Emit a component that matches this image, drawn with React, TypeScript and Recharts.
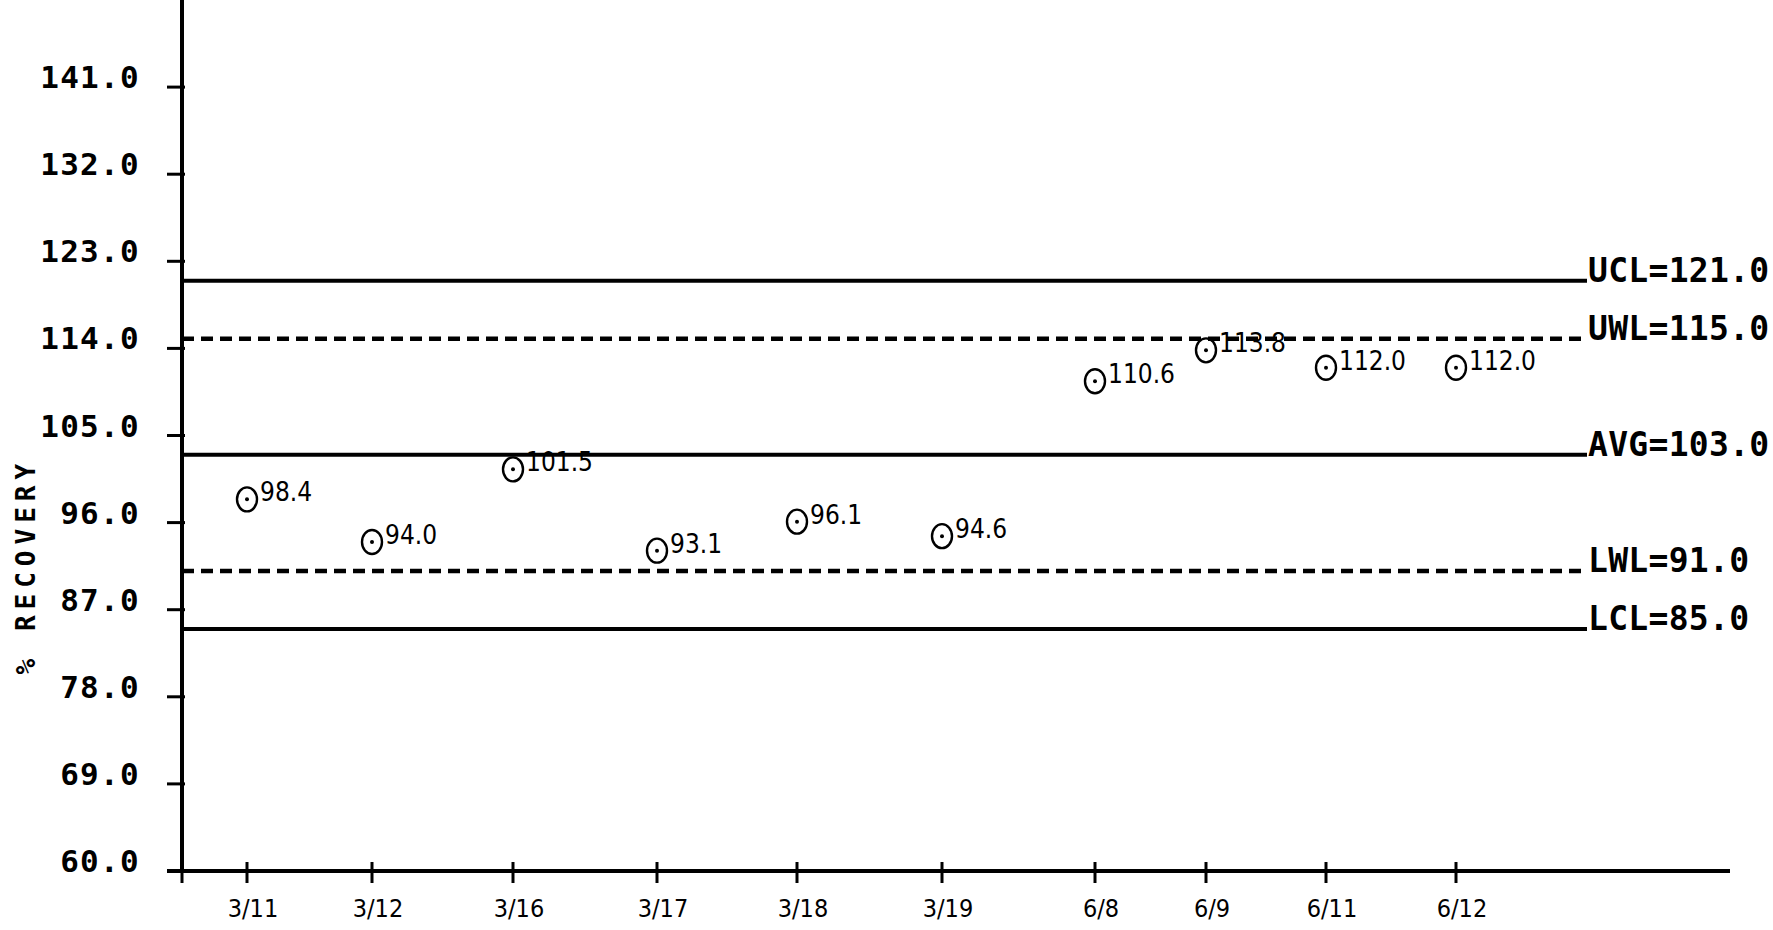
import { ScatterChart, Scatter, XAxis, YAxis, ReferenceLine, ReferenceDot, Label } from "recharts";

// hand-written dates under the x axis and where each tick sits along the axis
const dates = ["3/11", "3/12", "3/16", "3/17", "3/18", "3/19", "6/8", "6/9", "6/11", "6/12"];
const tickSlot = [6.5, 19.0, 33.1, 47.5, 61.5, 76.0, 91.3, 102.4, 114.4, 127.4];
const recovery = [98.4, 94.0, 101.5, 93.1, 96.1, 94.6, 110.6, 113.8, 112.0, 112.0];

const yTicks = [60, 69, 78, 87, 96, 105, 114, 123, 132, 141];

const limitNames = ["UCL", "UWL", "AVG", "LWL", "LCL"];
const limitValues = [121, 115, 103, 91, 85];
const limitEnd = 140.5;

const points = dates.map((d, i) => ({ date: d, slot: tickSlot[i], value: recovery[i] }));

const mono = "'DejaVu Sans Mono', 'Liberation Mono', monospace";
const hand = "'DejaVu Sans Condensed', 'Liberation Sans Narrow', sans-serif";

const YTick = (props: any) => {
  const { x, y, payload } = props;
  return (
    <g>
      <line x1={x} x2={x + 18} y1={y} y2={y} stroke="#000" strokeWidth={3} />
      <text x={x - 27} y={y + 1} textAnchor="end" fontFamily={mono} fontWeight="bold" fontSize={31} letterSpacing={1.3} fill="#000">
        {Number(payload.value).toFixed(1)}
      </text>
    </g>
  );
};

const XTick = (props: any) => {
  const { x, y, payload } = props;
  const idx = tickSlot.indexOf(payload.value);
  return (
    <g>
      <line x1={x} x2={x} y1={y - 9} y2={y + 12} stroke="#000" strokeWidth={3} />
      {idx >= 0 && (
        <text x={x + 6} y={y + 37} textAnchor="middle" dominantBaseline="central" fontFamily={hand} fontSize={25} fill="#000">
          {dates[idx]}
        </text>
      )}
    </g>
  );
};

const PointShape = (props: any) => {
  const { cx, cy, payload } = props;
  return (
    <g>
      <ellipse cx={cx} cy={cy} rx={10} ry={12} fill="none" stroke="#000" strokeWidth={2.4} />
      <circle cx={cx} cy={cy} r={2} fill="#000" />
      <text x={cx + 13} y={cy - 7} dominantBaseline="central" fontFamily={hand} fontSize={26} fill="#000">
        {payload.value.toFixed(1)}
      </text>
    </g>
  );
};

export default function App() {
  return (
    <div style={{ position: "absolute", left: 0, top: 0, background: "#fff" }}>
      <ScatterChart width={1773} height={930} margin={{ top: 0, right: 43, bottom: 0, left: 0 }}>
        <XAxis
          type="number"
          dataKey="slot"
          domain={[-1.5, 154.8]}
          ticks={[0, ...tickSlot]}
          interval={0}
          height={59}
          tickSize={0}
          tickMargin={0}
          tickLine={false}
          axisLine={{ stroke: "#000", strokeWidth: 4 }}
          tick={<XTick />}
          allowDataOverflow
        />
        <YAxis
          type="number"
          dataKey="value"
          domain={[60, 150]}
          ticks={yTicks}
          interval={0}
          width={167}
          tickSize={0}
          tickMargin={0}
          tickLine={false}
          axisLine={false}
          tick={<YTick />}
          allowDataOverflow
        >
          <Label
            content={(p: any) => {
              const vb = p.viewBox || { x: 0, y: 0, height: 871 };
              return (
                <text
                  transform={`translate(${vb.x + 26}, ${vb.y + vb.height * 0.65}) rotate(-90)`}
                  textAnchor="middle"
                  dominantBaseline="central"
                  fontFamily={mono}
                  fontWeight="bold"
                  fontSize={26}
                  letterSpacing={6}
                  fill="#000"
                >
                  % RECOVERY
                </text>
              );
            }}
          />
        </YAxis>
        <ReferenceLine x={0} stroke="#000" strokeWidth={4} ifOverflow="visible" />
        {limitValues.map((v, i) => (
          <ReferenceLine
            key={limitNames[i]}
            segment={[{ x: 0, y: v }, { x: limitEnd, y: v }]}
            stroke="#000"
            strokeWidth={limitNames[i].endsWith("WL") ? 4.5 : 4}
            strokeDasharray={limitNames[i].endsWith("WL") ? "12 7" : undefined}
          />
        ))}
        {limitValues.map((v, i) => (
          <ReferenceDot
            key={limitNames[i] + "-label"}
            x={limitEnd}
            y={v}
            r={0}
            shape={(p: any) => (
              <text x={p.cx + 1} y={p.cy + 1} fontFamily={mono} fontWeight="bold" fontSize={33} letterSpacing={0.3} fill="#000">
                {`${limitNames[i]}=${v.toFixed(1)}`}
              </text>
            )}
          />
        ))}
        <Scatter data={points} dataKey="value" isAnimationActive={false} shape={<PointShape />} />
      </ScatterChart>
    </div>
  );
}
